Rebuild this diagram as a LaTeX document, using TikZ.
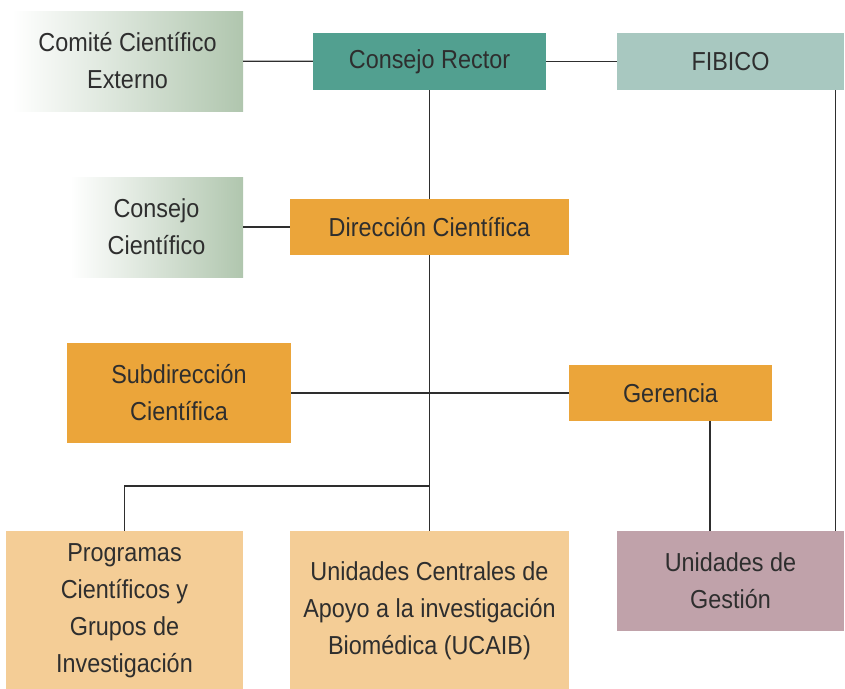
\documentclass[tikz,border=0pt]{standalone}
\usepackage{fontspec}
\setmainfont[FakeStretch=0.9]{Liberation Sans}
\usetikzlibrary{calc}
\definecolor{textgray}{HTML}{2E2E2E}
\definecolor{rectorteal}{HTML}{52A090}
\definecolor{fibicoteal}{HTML}{A8C8C0}
\definecolor{darkorange}{HTML}{EBA53A}
\definecolor{lightorange}{HTML}{F4CD96}
\definecolor{mauve}{HTML}{C0A2AA}
\definecolor{sage}{HTML}{B0C6AE}
\definecolor{beige}{HTML}{EAE4CB}

\begin{document}
\begin{tikzpicture}[x=1pt,y=-1pt,
                    box/.style={inner sep=0pt,align=center,text=textgray,font=\fontsize{26}{37}\selectfont},
                    advisory box/.style={box,left color=white,middle color=beige,right color=sage},
                    board box/.style={box,fill=rectorteal},
                    foundation box/.style={box,fill=fibicoteal},
                    direction box/.style={box,fill=darkorange},
                    unit box/.style={box,fill=lightorange},
                    management box/.style={box,fill=mauve},
                    link/.style={line width=1.3pt,textgray}]
    \path[use as bounding box] (0,0) rectangle (845,688);

    \node[advisory box,minimum width=231,minimum height=100] (comite) at (127.5,61) {Comité Científico\\Externo};
    \node[board box,minimum width=233,minimum height=57] (rector) at (429.5,61.5) {Consejo Rector};
    \node[foundation box,minimum width=227,minimum height=57] (fibico) at (730.5,61.5) {FIBICO};
    \node[advisory box,minimum width=173,minimum height=100] (consejo) at (156.5,227) {Consejo\\Científico};
    \node[direction box,minimum width=279,minimum height=56] (direccion) at (429.5,227) {Dirección Científica};
    \node[direction box,minimum width=224,minimum height=100] (subdireccion) at (179,393) {Subdirección\\Científica};
    \node[direction box,minimum width=203,minimum height=56] (gerencia) at (670.5,393) {Gerencia};
    \node[unit box,minimum width=237,minimum height=160] (programas) at (124.5,611) {Programas\\Científicos y\\Grupos de\\Investigación};
    \node[unit box,minimum width=279,minimum height=160] (ucaib) at (429.5,611) {Unidades Centrales de\\Apoyo a la investigación\\Biomédica (UCAIB)};
    \node[management box,minimum width=227,minimum height=100] (gestion) at (730.5,581) {Unidades de\\Gestión};

    \coordinate (split) at (429.5,486);

    \draw[link] (comite) -- (rector);
    \draw[link] (rector) -- (fibico);
    \draw[link] (consejo) -- (direccion);
    \draw[link] (rector) -- (direccion);
    \draw[link] (direccion) -- (ucaib);
    \draw[link] (subdireccion) -- (gerencia);
    \draw[link] (split) -| (programas.north);
    \draw[link] ($(gerencia.south)+(39.5,0)$) coordinate (gerencia drop) -- (gerencia drop |- gestion.north);
    \draw[link] ($(fibico.south east)+(-9,0)$) coordinate (fibico drop) -- (fibico drop |- gestion.north);
\end{tikzpicture}
\end{document}
